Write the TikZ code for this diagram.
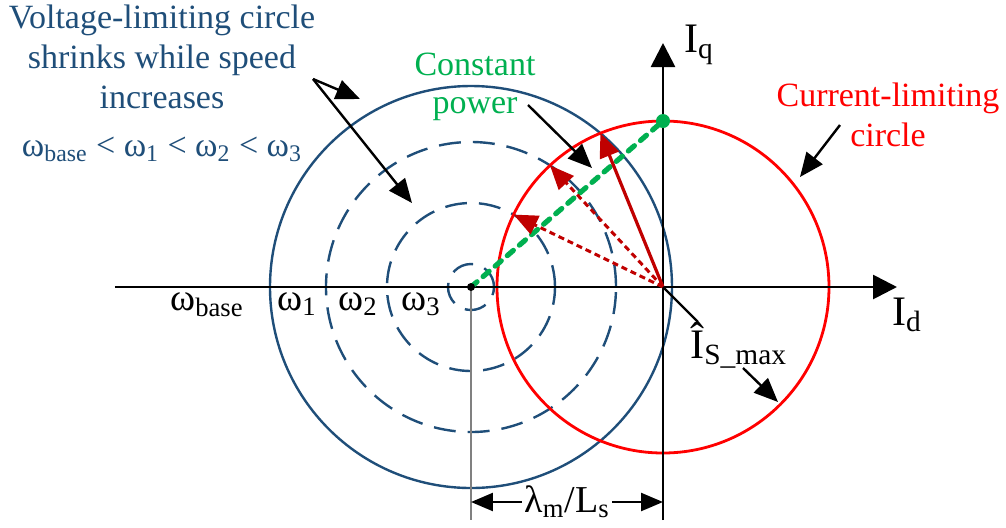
\documentclass[tikz,border=0pt]{standalone}
\usepackage{fontspec}
\setmainfont{Liberation Serif}
\usetikzlibrary{arrows.meta}
\definecolor{vblue}{RGB}{31,78,121}
\definecolor{cgreen}{RGB}{0,176,80}
\definecolor{cred}{RGB}{255,0,0}
\definecolor{dred}{RGB}{192,0,0}

\begin{document}
\begin{tikzpicture}[x=0.5pt, y=0.5pt,
		ax/.style = {-{Triangle[length=12pt,width=12pt]}, line width=1.4pt},
		ptr/.style = {-{Triangle[length=12pt,width=10pt]}, line width=1.2pt},
		vc/.style = {vblue, line width=1.2pt},
		vd/.style = {vc, dash pattern=on 11pt off 6pt},
		vec/.style = {dred, line width=1.6pt, -{Triangle[length=12pt,width=10pt]}},
		vecd/.style = {vec, line width=1.5pt, dash pattern=on 3pt off 2pt},
		lbl/.style = {inner sep=0pt, align=center, font=\fontsize{17}{20}\selectfont},
		big/.style = {inner sep=0pt, font=\fontsize{21}{24}\selectfont},
		om/.style = {inner sep=0pt, anchor=base, font=\fontsize{19}{22}\selectfont},
		]
		\useasboundingbox (-663,-240) rectangle (343,287);
		
		% origins
		\coordinate (O) at (0,0);
		\coordinate (C) at (-192,0);
		\coordinate (P) at (0,166);
		
		% voltage and current circles
		\draw[vc] (C) circle (201);
		\foreach \r in {145,84,23}
			\draw[vd] (C) circle (\r);
		\draw[cred, line width=1.4pt] (O) circle (166);
		
		% axes
		\coordinate (dl) at (-548,0);
		\coordinate (dr) at (234,0);
		\coordinate (qb) at (0,-233);
		\coordinate (qt) at (0,244);
		\draw[ax] (dl) -- (dr);
		\draw[ax] (qb) -- (qt);
		\node[big] (id) at (244,-28) {I\textsubscript{d}};
		\node[big] (iq) at (36,242) {I\textsubscript{q}};
		
		% lambda_m / L_s
		\coordinate (cb) at (-192,-233);
		\coordinate (dm1) at (-192,-215);
		\coordinate (dm2) at (0,-215);
		\draw[gray, line width=1.2pt] (C) -- (cb);
		\draw[{Triangle[length=11pt,width=9pt]}-{Triangle[length=11pt,width=9pt]}, line width=1.2pt]
			(dm1) -- node[fill=white, inner sep=1pt, font=\fontsize{19}{22}\selectfont] (lam)
			{λ\textsubscript{m}/L\textsubscript{s}} (dm2);
		
		% constant power line
		\draw[cgreen, line width=2.6pt, dash pattern=on 4pt off 4pt, line cap=round] (C) -- (P);
		\fill[cgreen] (P) circle (7);
		\fill (C) circle (4);
		
		% current vectors
		\coordinate (A1) at (-62.6,153.8);
		\coordinate (A2) at (-113.0,121.6);
		\coordinate (A3) at (-149.4,72.4);
		\draw[vecd] (O) -- (A3);
		\draw[vecd] (O) -- (A2);
		\draw[vec] (O) -- (A1);
		
		% speed labels
		\node[om] (wb) at (-456,-23) {ω\textsubscript{base}};
		\node[om] (w1) at (-366,-23) {ω\textsubscript{1}};
		\node[om] (w2) at (-305,-23) {ω\textsubscript{2}};
		\node[om] (w3) at (-242,-23) {ω\textsubscript{3}};
		
		% annotations
		\node[lbl, text=vblue] (vtxt) at (-501,204)
			{Voltage-limiting circle\\shrinks while speed\\increases\\[4pt]
			ω\textsubscript{base} < ω\textsubscript{1} < ω\textsubscript{2} < ω\textsubscript{3}};
		\node[lbl, text=cgreen, font=\fontsize{17}{19}\selectfont] (ptxt) at (-188,200) {Constant\\power};
		\node[lbl, text=cred] (ctxt) at (225,172) {Current-limiting\\circle};
		\node[big, anchor=base west] (ismax) at (27,-71) {Î\textsubscript{S\_max}};
		
		\coordinate (v0) at (-350,208);
		\coordinate (v1) at (-303,188);
		\coordinate (v2) at (-251,84);
		\draw[ptr] (v0) -- (v1);
		\draw[ptr] (v0) -- (v2);
		
		\coordinate (p0) at (-135,182);
		\coordinate (p1) at (-71,119);
		\draw[ptr] (p0) -- (p1);
		
		\coordinate (c0) at (177,162);
		\coordinate (c1) at (137,110);
		\draw[ptr] (c0) -- (c1);
		
		\coordinate (hat) at (35,-35);
		\draw[line width=1.2pt] (O) -- (hat);
		\coordinate (s0) at (80,-81);
		\coordinate (s1) at (115,-115);
		\draw[ptr] (s0) -- (s1);
	\end{tikzpicture}
\end{document}
